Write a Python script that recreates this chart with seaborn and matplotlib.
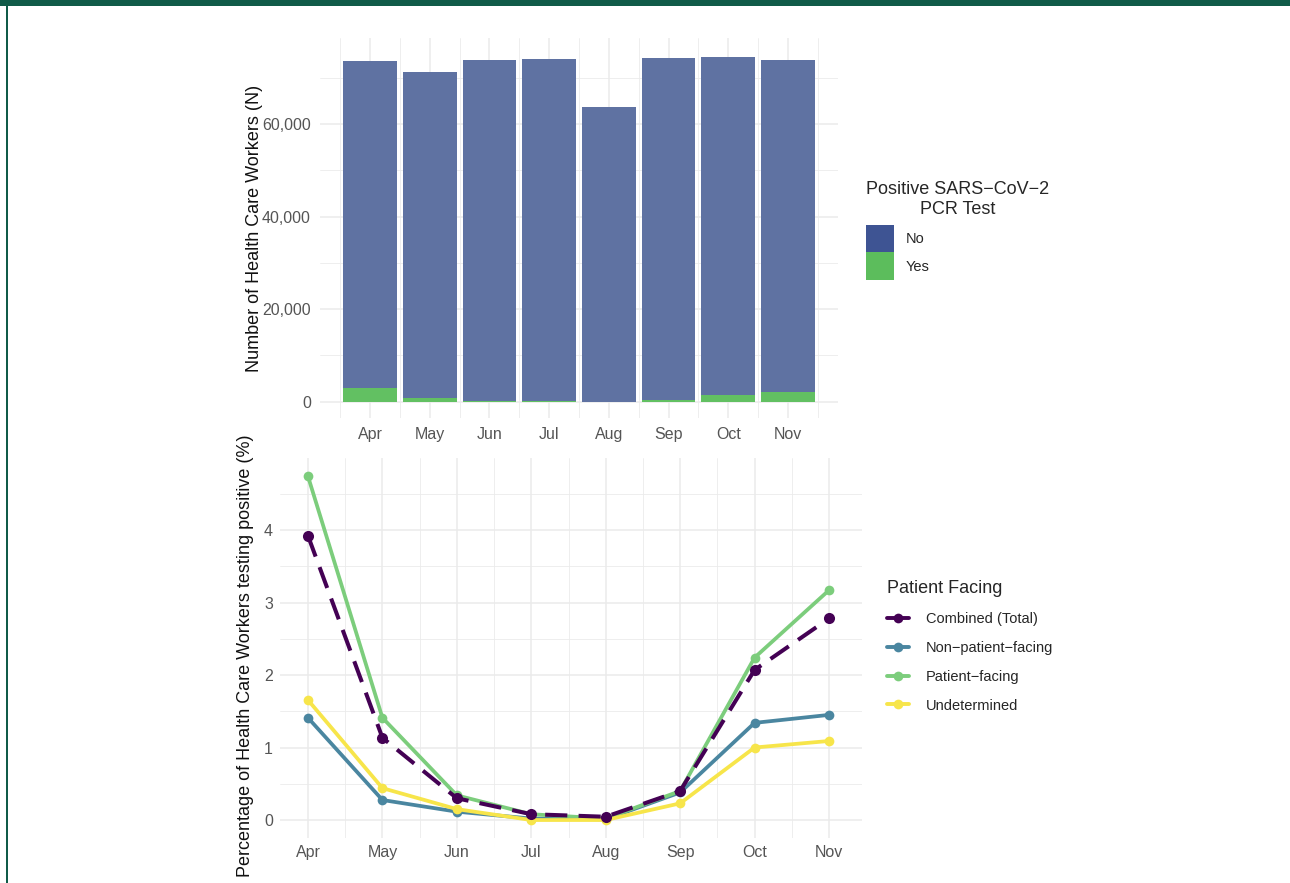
import numpy as np
import pandas as pd
import matplotlib
matplotlib.use("Agg")
import matplotlib.pyplot as plt
from matplotlib.patches import Rectangle, Patch
from matplotlib.lines import Line2D
from matplotlib.ticker import FuncFormatter, MultipleLocator
import seaborn as sns

# ---- data -------------------------------------------------------------
months = ["Apr", "May", "Jun", "Jul", "Aug", "Sep", "Oct", "Nov"]

# health care workers tested per month, split by PCR result
pcr_negative = [70810, 70490, 73680, 74040, 63670, 74000, 72960, 71940]
pcr_positive = [2890, 810, 220, 60, 30, 300, 1540, 2060]

# percentage testing positive, by patient-facing status
pct_combined = [3.92, 1.135, 0.30, 0.08, 0.045, 0.40, 2.07, 2.78]
pct_non_patient = [1.41, 0.276, 0.115, 0.02, 0.01, 0.38, 1.34, 1.45]
pct_patient = [4.74, 1.41, 0.34, 0.08, 0.02, 0.40, 2.24, 3.17]
pct_undetermined = [1.655, 0.44, 0.15, 0.0, 0.0, 0.23, 1.00, 1.09]

group_names = ["Combined (Total)", "Non\u2212patient\u2212facing",
               "Patient\u2212facing", "Undetermined"]

# ---- style ------------------------------------------------------------
sns.set_theme(style="white")
plt.rcParams["font.family"] = ["Liberation Sans", "DejaVu Sans"]

W, H = 1290, 883
fig = plt.figure(figsize=(W / 100, H / 100), dpi=100)
fig.patch.set_facecolor("white")

# frame band across the top and a thin rule down the left
frame_green = "#105b48"
fig.add_artist(Rectangle((0, 1 - 6 / H), 1, 6 / H, transform=fig.transFigure,
                         facecolor=frame_green, edgecolor="none"))
fig.add_artist(Rectangle((6 / W, 0), 2 / W, 1, transform=fig.transFigure,
                         facecolor=frame_green, edgecolor="none"))


def px_axes(left, top, right, bottom):
    return fig.add_axes([left / W, 1 - bottom / H, (right - left) / W, (bottom - top) / H])


TICK_COLOR = "#555555"
GRID = "#ebebeb"


def style_axes(ax, xpad, ypad):
    ax.set_facecolor("white")
    for s in ax.spines.values():
        s.set_visible(False)
    ax.set_axisbelow(True)
    ax.grid(True, which="major", color=GRID, linewidth=1.1)
    ax.grid(True, which="minor", color=GRID, linewidth=0.6)
    ax.tick_params(axis="both", which="both", length=0, labelsize=11.5,
                   labelcolor=TICK_COLOR)
    ax.tick_params(axis="x", pad=xpad)
    ax.tick_params(axis="y", pad=ypad)


# ---- top panel: stacked bars -----------------------------------------
ax1 = px_axes(320, 38, 838, 418)
bars = pd.DataFrame({
    "month": months,
    "total": np.add(pcr_negative, pcr_positive),
    "positive": pcr_positive,
})
BAR_NO = "#5f72a2"
BAR_YES = "#62c062"
sns.barplot(data=bars, x="month", y="total", color=BAR_NO, saturation=1,
            width=0.9, linewidth=0, ax=ax1)
sns.barplot(data=bars, x="month", y="positive", color=BAR_YES, saturation=1,
            width=0.9, linewidth=0, ax=ax1)
style_axes(ax1, xpad=6.5, ypad=6.5)
ax1.set_xticks(np.arange(-0.5, 8, 1), minor=True)
ax1.yaxis.set_major_locator(MultipleLocator(20000))
ax1.yaxis.set_minor_locator(MultipleLocator(10000))
ax1.set_xlim(-0.837, 7.837)
ax1.set_ylim(-3526, 78650)
ax1.yaxis.set_major_formatter(FuncFormatter(lambda v, p: f"{int(v):,}"))
ax1.set_xlabel("")
ax1.set_ylabel("Number of Health Care Workers (N)", fontsize=13, color="#111111")
ax1.yaxis.set_label_coords(-0.11, 0.5)

leg1 = fig.legend(
    handles=[Patch(facecolor="#3e5493", edgecolor="none"),
             Patch(facecolor="#5cbd5c", edgecolor="none")],
    labels=["No", "Yes"],
    title="Positive SARS\u2212CoV\u22122\nPCR Test",
    loc="upper left", bbox_to_anchor=(866 / W, 1 - 181 / H),
    frameon=False, fontsize=10.5, title_fontsize=13,
    handlelength=1.9, handleheight=2.56, labelspacing=0.0,
    handletextpad=0.8, borderpad=0, borderaxespad=0,
)
leg1._legend_box.align = "left"
leg1._legend_box.sep = 5
leg1.get_title().set_multialignment("center")

# ---- bottom panel: percentage positive lines -------------------------
ax2 = px_axes(280, 458, 862, 838)
series = [pct_combined, pct_non_patient, pct_patient, pct_undetermined]
lines = pd.DataFrame({
    "month": np.tile(months, len(group_names)),
    "group": np.repeat(group_names, len(months)),
    "pct": np.concatenate(series),
})
colors = {
    group_names[0]: "#440154",
    group_names[1]: "#4a86a0",
    group_names[2]: "#7ccd7c",
    group_names[3]: "#f7e54a",
}
draw_order = [group_names[1], group_names[2], group_names[3], group_names[0]]
for g in draw_order:
    sub = lines[lines["group"] == g]
    is_total = g == group_names[0]
    sns.lineplot(
        data=sub, x="month", y="pct", color=colors[g], ax=ax2,
        linewidth=2.9 if is_total else 2.7,
        linestyle=(0, (5.5, 2.8)) if is_total else "-",
        marker="o", markersize=8 if is_total else 7, markeredgewidth=0,
        sort=False, estimator=None,
    )
style_axes(ax2, xpad=5, ypad=5)
ax2.set_xticks(np.arange(-0.5, 8, 1), minor=True)
ax2.yaxis.set_major_locator(MultipleLocator(1))
ax2.yaxis.set_minor_locator(MultipleLocator(0.5))
ax2.set_xlim(-0.376, 7.443)
ax2.set_ylim(-0.248, 4.993)
ax2.set_xlabel("")
ax2.set_ylabel("Percentage of Health Care Workers testing positive (%)",
               fontsize=13, color="#111111")
ax2.yaxis.set_label_coords(-0.045, 0.48)

leg2 = fig.legend(
    handles=[Line2D([], [], color=colors[g], linewidth=2.8, marker="o",
                    markersize=7, markeredgewidth=0) for g in group_names],
    labels=group_names,
    title="Patient Facing",
    loc="upper left", bbox_to_anchor=(887 / W, 1 - 580 / H),
    frameon=False, fontsize=10.5, title_fontsize=13,
    handlelength=1.5, labelspacing=1.02, handletextpad=1.15,
    borderpad=0, borderaxespad=0,
)
leg2._legend_box.align = "left"

fig.savefig("out.png", dpi=100, facecolor="white")
